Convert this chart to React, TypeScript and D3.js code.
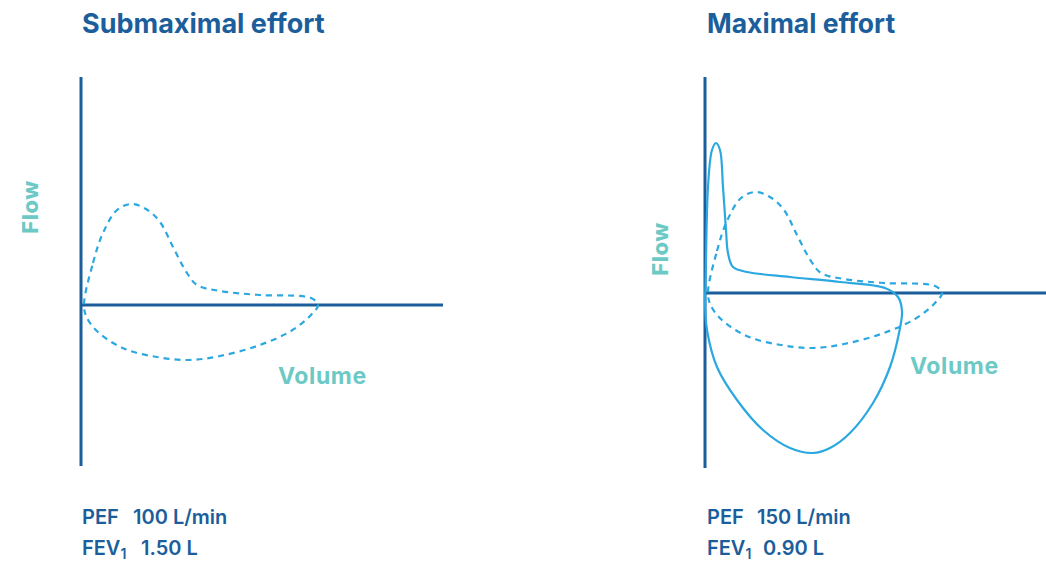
import React from "react";
import * as d3 from "d3";

// Submaximal effort flow-volume loop (volume, flow) in arbitrary units
const submaxExpiratory: [number, number][] = [
  [0.3, 0], [1.2, 4.2], [2.2, 7.2], [3.6, 9.5], [5.0, 10.1], [6.5, 9.6], [7.9, 8.3],
  [9.2, 5.8], [10.6, 3.2], [11.6, 2.0], [13.9, 1.4], [17.9, 1.0], [23.0, 0.7], [23.7, 0],
];
const submaxInspiratory: [number, number][] = [
  [23.0, -1.0], [21.0, -2.6], [17.6, -4.1], [13.9, -5.1], [10.8, -5.5], [7.6, -5.2],
  [4.4, -4.4], [1.8, -2.8], [0.6, -1.3],
];

// Maximal effort flow-volume loop
const maxExpiratory: [number, number][] = [
  [0.05, 0.6], [0.3, 10.6], [0.7, 14.3], [1.1, 15.0], [1.5, 14.3], [1.8, 10.6],
  [2.1, 6.3], [2.3, 4.0], [2.8, 2.6], [4.2, 2.1], [8.5, 1.6], [13.5, 1.1], [18.0, 0.5],
  [19.3, -0.4], [19.7, -1.8],
];
const maxInspiratory: [number, number][] = [
  [19.4, -4.0], [18.5, -7.4], [16.8, -11.0], [14.5, -14.0], [12.5, -15.5], [10.8, -16.0],
  [8.5, -15.5], [5.8, -13.7], [3.2, -10.7], [1.2, -7.4], [0.2, -3.7], [0.0, -0.7],
];

const panelTitles = ["Submaximal effort", "Maximal effort"];
const pefValues = ["100 L/min", "150 L/min"];
const fev1Values = ["1.50 L", "0.90 L"];

const DARK = "#1b5e9b";
const CURVE = "#2ba8e0";
const TEAL = "#6cc9c5";
const FONT = "Inter, 'Open Sans', sans-serif";

type Panel = {
  x: d3.ScaleLinear<number, number>;
  y: d3.ScaleLinear<number, number>;
};

function loopPath(p: Panel, exp: [number, number][], insp: [number, number][]) {
  const line = d3
    .line<[number, number]>()
    .x((d) => p.x(d[0]))
    .y((d) => p.y(d[1]))
    .curve(d3.curveCatmullRomClosed.alpha(0.5));
  return line([...exp, ...insp]) || "";
}

export default function App() {
  const left: Panel = {
    x: d3.scaleLinear().domain([0, 36.2]).range([81, 443]),
    y: d3.scaleLinear().domain([-16.1, 22.8]).range([466, 77]),
  };
  const right: Panel = {
    x: d3.scaleLinear().domain([0, 34.1]).range([705, 1046]),
    y: d3.scaleLinear().domain([-17.5, 21.6]).range([468, 77]),
  };

  const axes = (p: Panel) => {
    const [x0, x1] = p.x.range();
    const [yb, yt] = p.y.range();
    return (
      <g stroke={DARK} strokeWidth={3}>
        <line x1={x0} x2={x0} y1={yt} y2={yb} />
        <line x1={x0} x2={x1} y1={p.y(0)} y2={p.y(0)} />
      </g>
    );
  };

  const stats = (x: number, i: number, off1: number, off2: number) => (
    <g fontSize={20} fontWeight={600} fill={DARK}>
      <text x={x} y={524}>PEF</text>
      <text x={x + off1} y={524}>{pefValues[i]}</text>
      <text x={x} y={555}>
        <tspan>FEV</tspan>
        <tspan fontSize={14} dy={4}>1</tspan>
      </text>
      <text x={x + off2} y={555}>{fev1Values[i]}</text>
    </g>
  );

  return (
    <svg
      width={1046}
      height={562}
      style={{ position: "absolute", left: 0, top: 0, background: "#fff" }}
      fontFamily={FONT}
    >
      <rect width={1046} height={562} fill="#fff" />
      {/* Left panel */}
      <text x={82} y={33} fontSize={27} fontWeight={700} fill={DARK}>
        {panelTitles[0]}
      </text>
      {axes(left)}
      <path
        d={loopPath(left, submaxExpiratory, submaxInspiratory)}
        fill="none"
        stroke={CURVE}
        strokeWidth={2.2}
        strokeDasharray="6,5"
      />
      <text
        transform="translate(38,207) rotate(-90)"
        textAnchor="middle"
        fontSize={22}
        fontWeight={800}
        fill={TEAL}
        letterSpacing={0.5}
      >
        Flow
      </text>
      <text x={278} y={384} fontSize={23} fontWeight={700} fill={TEAL} letterSpacing={0.6}>
        Volume
      </text>
      {stats(82, 0, 51, 59)}

      {/* Right panel */}
      <text x={707} y={33} fontSize={26.5} fontWeight={700} fill={DARK}>
        {panelTitles[1]}
      </text>
      {axes(right)}
      <path
        d={loopPath(right, submaxExpiratory, submaxInspiratory)}
        fill="none"
        stroke={CURVE}
        strokeWidth={2.2}
        strokeDasharray="6,5"
      />
      <path
        d={loopPath(right, maxExpiratory, maxInspiratory)}
        fill="none"
        stroke={CURVE}
        strokeWidth={2.2}
      />
      <text
        transform="translate(668,249) rotate(-90)"
        textAnchor="middle"
        fontSize={22}
        fontWeight={800}
        fill={TEAL}
        letterSpacing={0.5}
      >
        Flow
      </text>
      <text x={910} y={374} fontSize={23} fontWeight={700} fill={TEAL} letterSpacing={0.6}>
        Volume
      </text>
      {stats(707, 1, 50, 56)}
    </svg>
  );
}
